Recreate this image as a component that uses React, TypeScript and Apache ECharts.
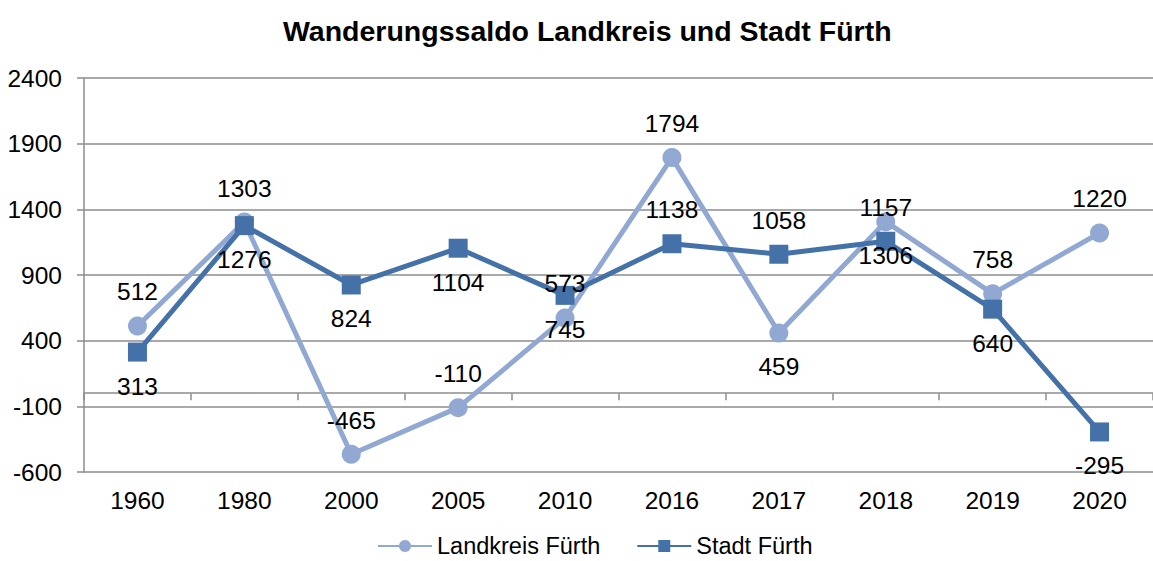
import React, { useEffect, useRef } from "react";
import * as echarts from "echarts";

const categories = ["1960", "1980", "2000", "2005", "2010", "2016", "2017", "2018", "2019", "2020"];
const landkreisValues = [512, 1303, -465, -110, 573, 1794, 459, 1306, 758, 1220];
const stadtValues = [313, 1276, 824, 1104, 745, 1138, 1058, 1157, 640, -295];
const landkreisLabelPos = ["top", "top", "top", "top", "top", "top", "bottom", "bottom", "top", "top"];
const stadtLabelPos = ["bottom", "bottom", "bottom", "bottom", "bottom", "top", "top", "top", "bottom", "bottom"];
const yMin = -600;
const yMax = 2400;
const yStep = 500;

const FONT = "'Liberation Sans', Arial, sans-serif";
const LIGHT = "#91A8D3";
const DARK = "#4471A8";
const GRID = "#8C8C8C";
const FS = 24.5;

export default function App() {
  const ref = useRef<HTMLDivElement>(null);
  useEffect(() => {
    document.body.style.margin = "0";
    if (!ref.current) return;
    const chart = echarts.init(ref.current, undefined, { renderer: "svg" });
    const labelBase = { show: true, fontSize: FS, color: "#000", fontFamily: FONT, distance: 12 };
    chart.setOption({
      animation: false,
      textStyle: { fontFamily: FONT },
      title: {
        text: "Wanderungssaldo Landkreis und Stadt Fürth",
        left: 278,
        top: 11,
        textStyle: { fontSize: 28.5, fontWeight: "bold", color: "#000", fontFamily: FONT },
      },
      legend: {
        left: 372,
        top: 529,
        padding: [5, 5, 0, 5],
        itemWidth: 54,
        itemHeight: 15,
        itemGap: 36,
        textStyle: { fontSize: 23.5, lineHeight: 24, color: "#000", fontFamily: FONT },
        data: ["Landkreis Fürth", "Stadt Fürth"],
      },
      grid: { left: 84, top: 78, height: 394, width: 1074 },
      xAxis: [
        {
          type: "category",
          data: categories,
          position: "bottom",
          boundaryGap: true,
          axisLine: { show: false, onZero: false },
          axisTick: { show: false },
          axisLabel: { fontSize: FS, color: "#000", margin: 16, fontFamily: FONT },
        },
        {
          type: "category",
          data: categories,
          position: "bottom",
          boundaryGap: true,
          axisLine: { show: true, onZero: true, lineStyle: { color: GRID, width: 1.5 } },
          axisTick: { show: true, inside: false, length: 7, lineStyle: { color: GRID, width: 1.5 } },
          axisLabel: { show: false },
        },
      ],
      yAxis: {
        type: "value",
        min: yMin,
        max: yMax,
        interval: yStep,
        axisLine: { show: true, lineStyle: { color: GRID, width: 1.5 } },
        axisTick: { show: true, length: 7, lineStyle: { color: GRID, width: 1.5 } },
        axisLabel: {
          fontSize: FS,
          color: "#000",
          margin: 22,
          fontFamily: FONT,
          formatter: (v: number) => String(v),
        },
        splitLine: { show: true, lineStyle: { color: GRID, width: 1.5 } },
      },
      series: [
        {
          name: "Landkreis Fürth",
          type: "line",
          xAxisIndex: 0,
          data: landkreisValues.map((v, i) => ({ value: v, label: { position: landkreisLabelPos[i] } })),
          symbol: "circle",
          symbolSize: 19,
          lineStyle: { color: LIGHT, width: 5 },
          itemStyle: { color: LIGHT },
          label: labelBase,
        },
        {
          name: "Stadt Fürth",
          type: "line",
          xAxisIndex: 0,
          data: stadtValues.map((v, i) => ({ value: v, label: { position: stadtLabelPos[i] } })),
          symbol: "rect",
          symbolSize: 19,
          lineStyle: { color: DARK, width: 5 },
          itemStyle: { color: DARK },
          label: labelBase,
        },
      ],
    });
    return () => chart.dispose();
  }, []);
  return <div ref={ref} style={{ position: "absolute", left: 0, top: 0, width: 1153, height: 561 }} />;
}
